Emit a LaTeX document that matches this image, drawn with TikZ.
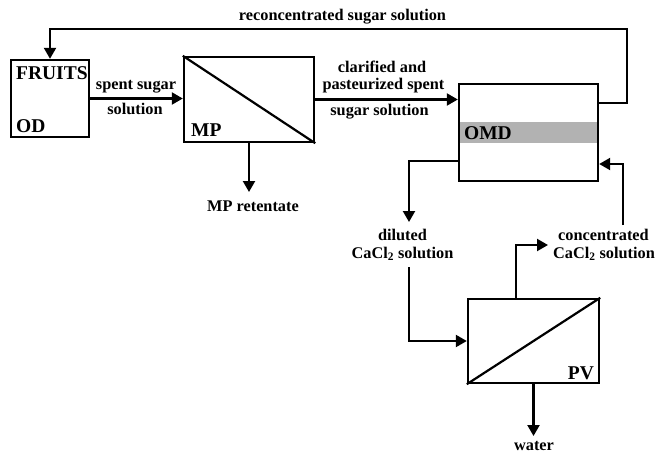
\documentclass[tikz,border=0pt]{standalone}
\usepackage{fontspec}
\setmainfont{Liberation Serif}
\usetikzlibrary{arrows.meta}
\begin{document}
\begin{tikzpicture}[x=1pt,y=-1pt,
  line width=2.2pt,
  boxstyle/.style={draw, line width=2.4pt, inner sep=0pt},
  arr/.style={-{Triangle[length=11pt,width=12pt]}, line width=2.2pt},
  lbl/.style={font=\bfseries\fontsize{16.3}{19}\selectfont, inner sep=0pt},
  tag/.style={font=\bfseries\fontsize{19.5}{22}\selectfont, inner sep=0pt}]
\useasboundingbox (0,0) rectangle (655,452);

% boxes
\node[boxstyle, minimum width=78pt, minimum height=77pt] (od) at (50,98.5) {};
\node[boxstyle, minimum width=130pt, minimum height=85pt] (mp) at (249,99.5) {};
\fill[gray!60] (459,122) rectangle (598,143);
\node[boxstyle, minimum width=139pt, minimum height=97pt] (omd) at (528.5,132.5) {};
\node[boxstyle, minimum width=131pt, minimum height=84pt] (pv) at (533.5,341) {};

\draw (mp.north west) -- (mp.south east);
\draw (pv.south west) -- (pv.north east);

% box labels
\node[tag, anchor=base west] (tfruits) at (15,79.5) {FRUITS};
\node[tag, anchor=base west] (tod) at (15,132.5) {OD};
\node[tag, anchor=base west] (tmp) at (190,136.5) {MP};
\node[tag, anchor=base west] (tomd) at (463,139.5) {OMD};
\node[tag, anchor=base east] (tpv) at (595,379.5) {PV};

% flow labels
\node[lbl] (lrecon) at (342.5,17) {reconcentrated sugar solution};
\node[lbl] (lspent1) at (136,87) {spent sugar};
\node[lbl] (lspent2) at (135,109) {solution};
\node[lbl] (lclar1) at (382,67) {clarified and};
\node[lbl] (lclar2) at (383.5,86) {pasteurized spent};
\node[lbl] (lclar3) at (379.5,112) {sugar solution};
\node[lbl] (lret) at (253,206) {MP retentate};
\node[lbl] (ldil1) at (402.5,235) {diluted};
\node[lbl] (ldil2) at (402.5,254) {CaCl\textsubscript{2} solution};
\node[lbl] (lcon1) at (603.5,235) {concentrated};
\node[lbl] (lcon2) at (604,254) {CaCl\textsubscript{2} solution};
\node[lbl, anchor=base] (lwater) at (534,450) {water};

% coordinates
\coordinate (fbR) at (627,103);
\coordinate (fbT) at (627,29);
\coordinate (mpOut) at (249,192);
\coordinate (dl1) at (409,161);
\coordinate (dl2) at (409,222);
\coordinate (dl3) at (409,267);
\coordinate (ct1) at (516,245);
\coordinate (ct2) at (548,245);
\coordinate (cr1) at (623,225);
\coordinate (cr2) at (623,164);
\coordinate (wt) at (533.5,436);

% connectors
\draw[arr] (od.east) -- (od.east -| mp.west);
\draw[arr] (mp.east) -- (mp.east -| omd.west);
\draw[arr] (fbR -| omd.east) -- (fbR) -- (fbT) -| (od.north);
\draw[arr] (mp.south) -- (mpOut);
\draw[arr] (dl1 -| omd.west) -- (dl1) -- (dl2);
\draw[arr] (dl3) |- (pv.west);
\draw[arr] (ct1 |- pv.north) -- (ct1) -- (ct2);
\draw[arr] (cr1) -- (cr2) -- (cr2 -| omd.east);
\draw[arr] (pv.south) -- (wt);
\end{tikzpicture}
\end{document}
